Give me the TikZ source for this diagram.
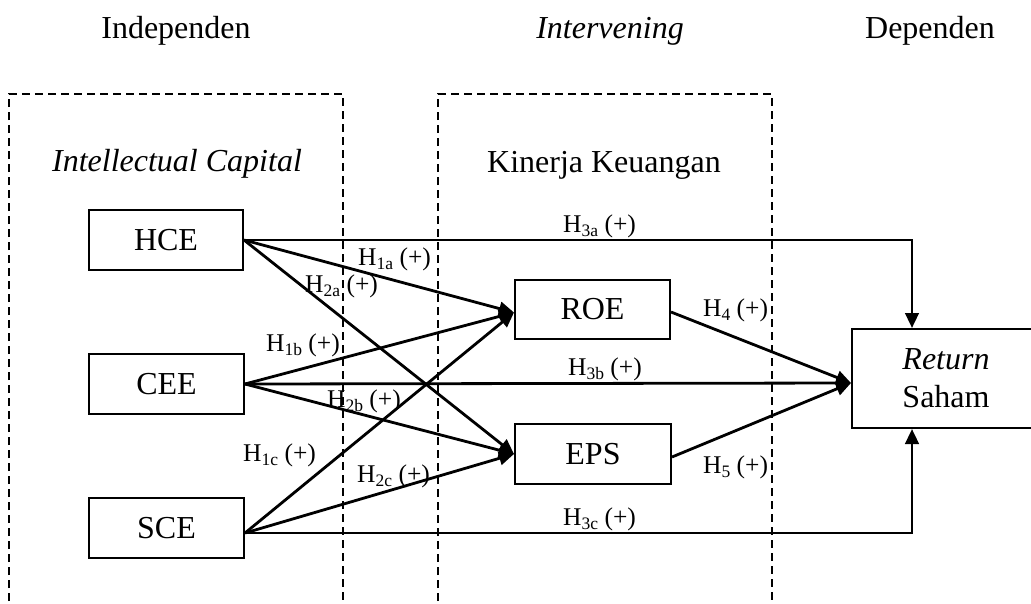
\documentclass[tikz,border=0pt]{standalone}
\usepackage{fontspec}
\setmainfont{Liberation Serif}
\usetikzlibrary{arrows.meta}
\newcommand\hsub[1]{\raisebox{-0.35ex}{\fontsize{17.5}{17.5}\selectfont #1}}
\tikzset{
  box/.style={draw, line width=2pt, inner sep=0pt, font=\fontsize{32}{38}\selectfont},
  grp/.style={draw, line width=1.5pt, dash pattern=on 8pt off 5pt},
  con/.style={line width=2.8pt, -{Triangle[length=15pt,width=13.5pt]}},
  lab/.style={anchor=base west, inner sep=0pt, font=\fontsize{25.5}{28}\selectfont},
  head/.style={anchor=base, inner sep=0pt, font=\fontsize{32}{38}\selectfont}
}
\begin{document}
\begin{tikzpicture}[x=1pt,y=-1pt]
\useasboundingbox (0,0) rectangle (1031,603);
% group frames
\draw[grp] (9,640) -- (9,94) -- (343,94) -- (343,640);
\draw[grp] (438,640) -- (438,94) -- (772,94) -- (772,640);
% headings
\node[head] (ind) at (176,38) {Independen};
\node[head] (intv) at (610,38) {\itshape Intervening};
\node[head] (dep) at (930,38) {Dependen};
\node[head] (ic) at (177,171) {\itshape Intellectual Capital};
\node[head] (kk) at (604,172) {Kinerja Keuangan};
% boxes
\node[box, minimum width=154pt, minimum height=60pt] (hce) at (166,240) {HCE};
\node[box, minimum width=155pt, minimum height=60pt] (cee) at (166.5,384) {CEE};
\node[box, minimum width=155pt, minimum height=60pt] (sce) at (166.5,528) {SCE};
\node[box, minimum width=155pt, minimum height=59pt] (roe) at (592.5,309.5) {ROE};
\node[box, minimum width=156pt, minimum height=60pt] (eps) at (593,454) {EPS};
\node[box, minimum width=188pt, minimum height=99pt, align=center] (ret) at (946,378.5) {\itshape Return\\Saham};
% connectors
\draw[con] (hce.east) -| ([xshift=-34pt]ret.north);
\draw[con] (hce.east) -- ([yshift=-3pt]roe.west);
\draw[con] (hce.east) -- (eps.west);
\draw[con] (cee.east) -- ([yshift=-3pt]roe.west);
\draw[con] (cee.east) -- ([yshift=-4.5pt]ret.west);
\draw[con] (cee.east) -- (eps.west);
\draw[con] ([yshift=-5pt]sce.east) -- ([yshift=-3pt]roe.west);
\draw[con] ([yshift=-5pt]sce.east) -- (eps.west);
\draw[con] ([yshift=-5pt]sce.east) -| ([xshift=-34pt]ret.south);
\draw[con] ([yshift=-2.5pt]roe.east) -- ([yshift=-4.5pt]ret.west);
\draw[con] ([yshift=-3pt]eps.east) -- ([yshift=-4.5pt]ret.west);
% labels
\node[lab] (l3a) at (563,232) {H\hsub{3a} (+)};
\node[lab] (l1a) at (358,265) {H\hsub{1a} (+)};
\node[lab] (l2a) at (305,292) {H\hsub{2a} (+)};
\node[lab] (l1b) at (266,351) {H\hsub{1b} (+)};
\node[lab] (l3b) at (568,375) {H\hsub{3b} (+)};
\node[lab] (l2b) at (327,407) {H\hsub{2b} (+)};
\node[lab] (l1c) at (243,461) {H\hsub{1c} (+)};
\node[lab] (l2c) at (357,482) {H\hsub{2c} (+)};
\node[lab] (l3c) at (563,525) {H\hsub{3c} (+)};
\node[lab] (l4) at (703,316) {H\hsub{4} (+)};
\node[lab] (l5) at (703,473) {H\hsub{5} (+)};
\end{tikzpicture}
\end{document}
